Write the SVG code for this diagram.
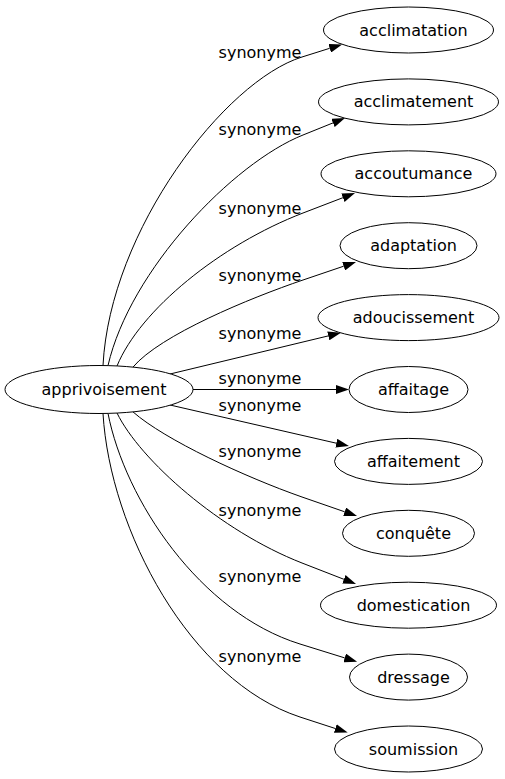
<svg xmlns="http://www.w3.org/2000/svg" width="505" height="779" viewBox="0 0 505 779">
<defs>
<marker id="arr" viewBox="0 0 13 9" refX="0" refY="4.5" markerWidth="13" markerHeight="9" markerUnits="userSpaceOnUse" orient="auto">
<path d="M0,0 L13,4.5 L0,9 Z" fill="#000"/>
</marker>
<style>
.n ellipse{fill:#fff;stroke:#000;stroke-width:1}
.n text{font-family:"DejaVu Sans",sans-serif;font-size:16px;fill:#000;text-anchor:middle}
.e path{fill:none;stroke:#000;stroke-width:1;marker-end:url(#arr)}
.e text{font-family:"DejaVu Sans",sans-serif;font-size:16px;fill:#000;text-anchor:middle}
</style>
</defs>
<rect width="505" height="779" fill="#fff"/>
<g id="edges" class="e">
<path d="M103,365.5 C110,230 225,81 302,57 L329.7,48.3"/>
<text x="260" y="58">synonyme</text>
<path d="M108,365.6 C130,270 233,163 303,135 L333,122.9"/>
<text x="260" y="135">synonyme</text>
<path d="M117,366 C140,310 220,245 303,213 L342.9,197.7"/>
<text x="260" y="214">synonyme</text>
<path d="M133,367.1 C160,335 250,298 303,280 L343.7,266.2"/>
<text x="260" y="281">synonyme</text>
<path d="M170,374 L328.3,335.9"/>
<text x="260" y="339">synonyme</text>
<path d="M193,389.5 L336,389.5"/>
<text x="260" y="384">synonyme</text>
<path d="M170,405 L336.3,443.2"/>
<text x="260" y="411">synonyme</text>
<path d="M133,411.9 C165,440 245,477 302,497 L344.7,511.8"/>
<text x="260" y="457">synonyme</text>
<path d="M117,413 C140,460 220,531 302,563 L343.9,579.3"/>
<text x="260" y="516">synonyme</text>
<path d="M108,413.4 C125,500 200,613 300,644 L344.7,657.9"/>
<text x="260" y="582">synonyme</text>
<path d="M103,413.5 C110,530 190,681 300,717 L335.3,728.5"/>
<text x="260" y="662">synonyme</text>
</g>
<g id="n0" class="n"><ellipse cx="99" cy="389.5" rx="94" ry="24"/><text x="104" y="395">apprivoisement</text></g>
<g id="n1" class="n"><ellipse cx="408.5" cy="30" rx="85" ry="23"/><text x="413.5" y="35.5">acclimatation</text></g>
<g id="n2" class="n"><ellipse cx="408.5" cy="101.9" rx="90" ry="23"/><text x="413.5" y="107.4">acclimatement</text></g>
<g id="n3" class="n"><ellipse cx="408.5" cy="173.8" rx="87.5" ry="23"/><text x="413.5" y="179.3">accoutumance</text></g>
<g id="n4" class="n"><ellipse cx="408.5" cy="245.7" rx="68.5" ry="23"/><text x="413.5" y="251.2">adaptation</text></g>
<g id="n5" class="n"><ellipse cx="408.5" cy="317.6" rx="90.5" ry="23"/><text x="413.5" y="323.1">adoucissement</text></g>
<g id="n6" class="n"><ellipse cx="408.5" cy="389.5" rx="59.5" ry="23"/><text x="413.5" y="395">affaitage</text></g>
<g id="n7" class="n"><ellipse cx="408.5" cy="461.4" rx="74" ry="23"/><text x="413.5" y="466.9">affaitement</text></g>
<g id="n8" class="n"><ellipse cx="408.5" cy="533.3" rx="66" ry="23"/><text x="413.5" y="538.8">conquête</text></g>
<g id="n9" class="n"><ellipse cx="408.5" cy="605.2" rx="88" ry="23"/><text x="413.5" y="610.7">domestication</text></g>
<g id="n10" class="n"><ellipse cx="408.5" cy="677.1" rx="59" ry="23"/><text x="413.5" y="682.6">dressage</text></g>
<g id="n11" class="n"><ellipse cx="408.5" cy="749" rx="74" ry="23"/><text x="413.5" y="754.5">soumission</text></g>
</svg>
